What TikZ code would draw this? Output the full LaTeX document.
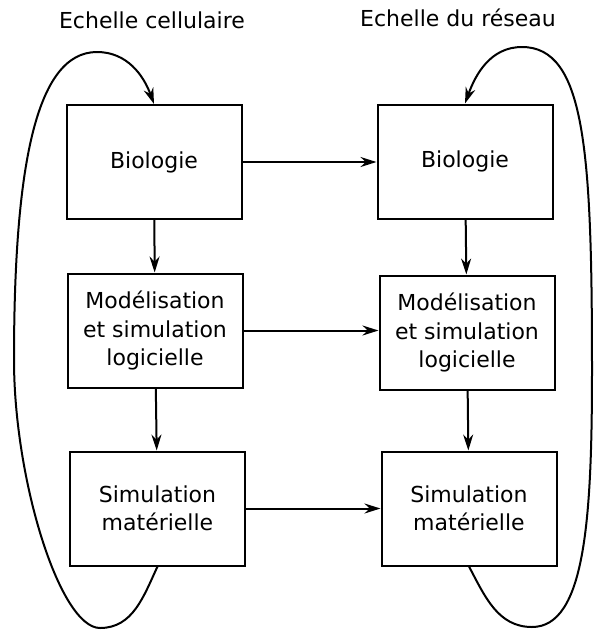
\documentclass[tikz,border=0pt]{standalone}
\usepackage{fontspec}
\setmainfont{DejaVu Sans}
\usetikzlibrary{arrows.meta}

\tikzset{
  boite/.style={draw, line width=2pt, minimum width=175pt, minimum height=114pt,
    align=center, font=\fontsize{22}{28.5}\selectfont},
  titre/.style={font=\fontsize{22}{28.5}\selectfont},
  fleche/.style={-{Stealth[length=16pt,width=10pt]}, line width=2pt}
}

\begin{document}
\begin{tikzpicture}[x=1pt, y=-1pt]
			\useasboundingbox (0, 0) rectangle (595, 630);
			
			% Titles
			\node[titre] (titreC) at (152, 20) {Echelle cellulaire};
			\node[titre] (titreR) at (458, 18) {Echelle du réseau};
			
			% Cell scale
			\node[boite] (bioC) at (154, 162) {Biologie};
			\node[boite] (modC) at (155, 330.5) {Modélisation\\et simulation\\logicielle};
			\node[boite] (simC) at (157.5, 508.5) {Simulation\\matérielle};
			
			% Network scale
			\node[boite] (bioR) at (465, 161.5) {Biologie};
			\node[boite] (modR) at (467, 332.5) {Modélisation\\et simulation\\logicielle};
			\node[boite] (simR) at (469, 508.5) {Simulation\\matérielle};
			
			% Down
			\draw[fleche] (bioC) -- (modC);
			\draw[fleche] (modC) -- (simC);
			\draw[fleche] (bioR) -- (modR);
			\draw[fleche] (modR) -- (simR);
			
			% Across
			\draw[fleche] (bioC.east) -- (bioC.east -| bioR.west);
			\draw[fleche] (modC.east) -- (modC.east -| modR.west);
			\draw[fleche] (simC.east) -- (simC.east -| simR.west);
			
			% Loops
			\draw[fleche] (simC.south) to[out=-115, in=0] (100, 628)
				.. controls (60, 628) and (14, 480) .. (14, 360)
				.. controls (14, 170) and (35, 52) .. (97, 52)
				to[out=0, in=110] (bioC.north);
			\draw[fleche] (simR.south) to[out=-62, in=180] (532, 627)
				.. controls (585, 627) and (592, 520) .. (592, 370)
				.. controls (592, 150) and (585, 47) .. (522, 47)
				to[out=180, in=70] (bioR.north);
			
		\end{tikzpicture}
\end{document}
